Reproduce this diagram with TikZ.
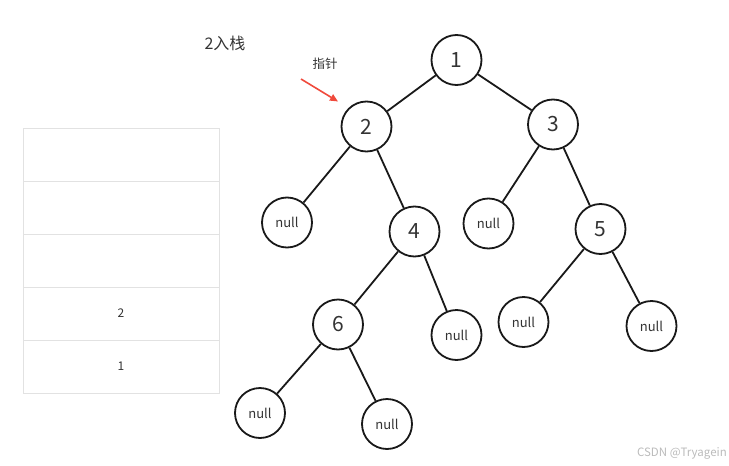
\documentclass[tikz,border=0pt]{standalone}
\usepackage{fontspec}
\setmainfont{Noto Sans CJK SC}
\usetikzlibrary{arrows.meta}
\definecolor{txt}{HTML}{333333}
\definecolor{grid}{HTML}{E2E2E2}
\definecolor{ptr}{HTML}{F04A3C}
\definecolor{wm}{HTML}{BBBBBB}
\tikzset{
  tn/.style={circle,draw=black!90,line width=1.8pt,minimum size=50pt,inner sep=0pt,text=txt,font=\fontsize{21}{21}\selectfont},
  nn/.style={tn,font=\fontsize{13}{13}\selectfont},
  edge/.style={line width=1.8pt,draw=black!90},
  cell/.style={draw=grid,line width=1pt,minimum width=196pt,minimum height=53pt,inner sep=0pt,text=txt,font=\fontsize{12}{12}\selectfont},
  lbl/.style={text=txt,inner sep=0pt}
}
\begin{document}
\begin{tikzpicture}[x=1pt,y=-1pt]
\useasboundingbox (0,0) rectangle (729,466);
% stack
\node[cell] (c1) at (121,154.5) {};
\node[cell] (c2) at (121,207.5) {};
\node[cell] (c3) at (121,260.5) {};
\node[cell] (c4) at (121,313.5) {2};
\node[cell] (c5) at (121,366.5) {1};
% labels
\node[lbl,font=\fontsize{16}{16}\selectfont] (title) at (225,43) {2入栈};
\node[lbl,font=\fontsize{12.5}{12.5}\selectfont] (ptrl) at (325,64) {指针};
\coordinate (ps) at (301,79);
\coordinate (pe) at (338,101.5);
\draw[ptr,line width=1.6pt,-{Triangle[length=8pt,width=7pt]}] (ps) -- (pe);
% tree
\node[tn] (n1) at (456.5,60) {1};
\node[tn] (n2) at (366.5,126.5) {2};
\node[tn] (n3) at (553,124.5) {3};
\node[nn] (a) at (287,222.5) {null};
\node[tn] (n4) at (414.5,231.5) {4};
\node[nn] (b) at (488.5,223.5) {null};
\node[tn] (n5) at (600.5,229) {5};
\node[tn] (n6) at (338,324.5) {6};
\node[nn] (c) at (456.5,335) {null};
\node[nn] (d) at (523.5,322) {null};
\node[nn] (e) at (651.5,326) {null};
\node[nn] (f) at (260,413) {null};
\node[nn] (g) at (387,424) {null};
\draw[edge] (n1) -- (n2);
\draw[edge] (n1) -- (n3);
\draw[edge] (n2) -- (a);
\draw[edge] (n2) -- (n4);
\draw[edge] (n3) -- (b);
\draw[edge] (n3) -- (n5);
\draw[edge] (n4) -- (n6);
\draw[edge] (n4) -- (c);
\draw[edge] (n5) -- (d);
\draw[edge] (n5) -- (e);
\draw[edge] (n6) -- (f);
\draw[edge] (n6) -- (g);
% watermark
\node[anchor=east,text=wm,inner sep=0pt,font=\fontsize{11.5}{11.5}\selectfont] (wmk) at (727,453) {CSDN @Tryagein};
\end{tikzpicture}
\end{document}
